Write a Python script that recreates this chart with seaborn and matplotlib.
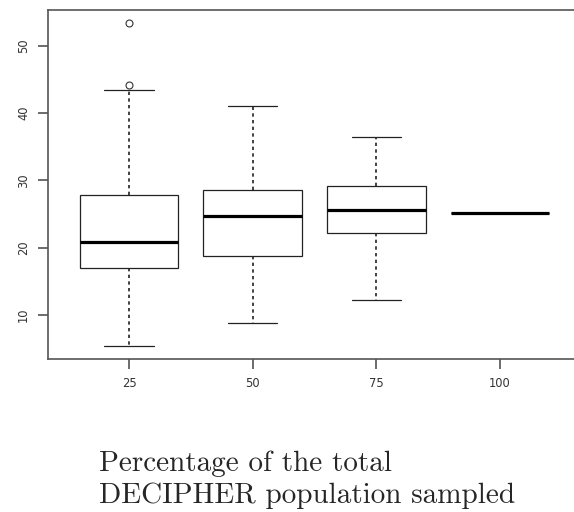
import matplotlib
matplotlib.use("Agg")
import matplotlib.pyplot as plt
import numpy as np
import pandas as pd
import seaborn as sns

# Values (box statistics per category)
categories = ["25", "50", "75", "100"]
whisker_low = [5.4, 8.8, 12.3, 25.1]
q1 = [17.05, 18.8, 22.2, 25.1]
median = [20.9, 24.75, 25.55, 25.1]
q3 = [27.8, 28.6, 29.17, 25.1]
whisker_high = [43.4, 41.05, 36.5, 25.1]
outliers = [[44.2, 53.4], [], [], []]
y_ticks = [10, 20, 30, 40, 50]

# Build a sample per category whose quartiles equal the read statistics
rows = []
for i, c in enumerate(categories):
    sample = ([whisker_low[i]] + [q1[i]] * 3 + [median[i]] * 3 + [q3[i]] * 3
              + [whisker_high[i]] + outliers[i])
    rows += [(c, v) for v in sample]
df = pd.DataFrame(rows, columns=["pct", "value"])

sns.set_style("white")
plt.rcParams["font.family"] = ["DejaVu Sans"]

fig = plt.figure(figsize=(5.74, 5.12), dpi=100)
ax = fig.add_axes([48 / 574, 1 - 359 / 512, 533 / 574, 349 / 512])

sns.boxplot(
    data=df, x="pct", y="value", order=categories, ax=ax,
    color="white", linecolor="#222222", linewidth=0.9, width=0.8,
    medianprops=dict(linewidth=2.3, color="black"),
    whiskerprops=dict(linestyle=(0, (2.0, 2.0)), linewidth=1.2),
    flierprops=dict(marker="o", markerfacecolor="none",
                    markeredgecolor="#333333", markersize=5,
                    markeredgewidth=0.8),
)

ax.set_xlim(-0.655, 3.655)
ax.set_ylim(3.47, 55.3)
ax.set_yticks(y_ticks)
ax.set_yticklabels([str(t) for t in y_ticks], rotation=90, va="center")
ax.set_xlabel("")
ax.set_ylabel("")
ax.tick_params(axis="both", which="both", length=7, width=1.1, color="#444444",
               labelsize=8.3, labelcolor="#333333", pad=6,
               bottom=True, left=True)
for s in ["left", "top", "bottom", "right"]:
    ax.spines[s].set_visible(True)
    ax.spines[s].set_color("#555555")
    ax.spines[s].set_linewidth(1.2)

fig.text(99 / 574, 1 - 471 / 512, "Percentage of the total",
         fontfamily="cmr10", fontsize=21, ha="left", va="baseline")
fig.text(99 / 574, 1 - 503 / 512, "DECIPHER population sampled",
         fontfamily="cmr10", fontsize=21, ha="left", va="baseline")

fig.savefig("out.png", dpi=100, facecolor="white")
